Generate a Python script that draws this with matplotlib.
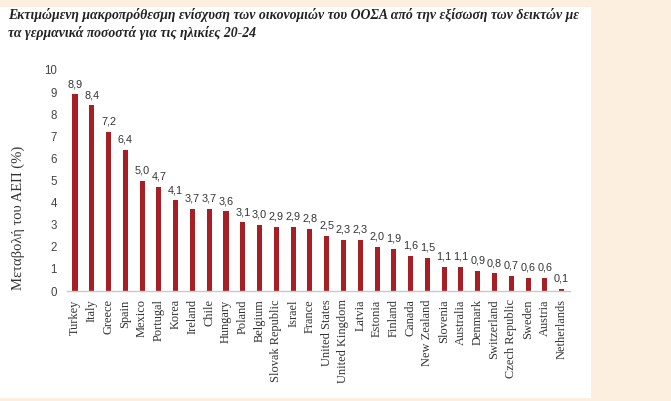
import matplotlib
matplotlib.use("Agg")
import matplotlib.pyplot as plt
from matplotlib.patches import Rectangle

countries = ["Turkey", "Italy", "Greece", "Spain", "Mexico", "Portugal", "Korea",
             "Ireland", "Chile", "Hungary", "Poland", "Belgium", "Slovak Republic",
             "Israel", "France", "United States", "United Kingdom", "Latvia", "Estonia",
             "Finland", "Canada", "New Zealand", "Slovenia", "Australia", "Denmark",
             "Switzerland", "Czech Republic", "Sweden", "Austria", "Netherlands"]
values = [8.9, 8.4, 7.2, 6.4, 5.0, 4.7, 4.1, 3.7, 3.7, 3.6, 3.1, 3.0, 2.9, 2.9, 2.8,
          2.5, 2.3, 2.3, 2.0, 1.9, 1.6, 1.5, 1.1, 1.1, 0.9, 0.8, 0.7, 0.6, 0.6, 0.1]
yticks = list(range(0, 11))
title = ("Εκτιμώμενη μακροπρόθεσμη ενίσχυση των οικονομιών του ΟΟΣΑ από την εξίσωση των δεικτών με\n"
         "τα γερμανικά ποσοστά για τις ηλικίες 20-24")
ylabel = "Μεταβολή του ΑΕΠ (%)"

W, H = 671, 401
fig = plt.figure(figsize=(W / 100, H / 100), dpi=100)
fig.patch.set_facecolor("#fdefdf")
fig.patches.append(Rectangle((0, 3.5 / H), 591 / W, (397.5 - 7) / H,
                             transform=fig.transFigure, facecolor="white",
                             edgecolor="none", zorder=-10))

ax = fig.add_axes([66.6 / W, 1 - 291 / H, (570 - 66.6) / W, (291 - 70) / H])
ax.set_zorder(5)
ax.set_facecolor("none")
x = list(range(len(countries)))
bar_color = "#a51f24"
ax.bar(x, values, width=0.3, color=bar_color, zorder=2)
for xi, v in zip(x, values):
    ax.text(xi, v + 0.24, f"{v:.1f}".replace(".", ","), ha="center", va="bottom",
            fontsize=7.8, color="#333333", family="Liberation Sans")

ax.set_xlim(-0.5, len(countries) - 0.5)
ax.set_ylim(0, 10)
ax.set_yticks(yticks)
ax.set_yticklabels([str(t) for t in yticks], family="Liberation Sans", fontsize=8.3,
                   color="#444444")
ax.set_xticks(x)
ax.set_xticklabels(countries, rotation=90, family="Liberation Serif", fontsize=8.9,
                   color="#333333")
ax.tick_params(axis="both", length=0)
ax.tick_params(axis="y", pad=7)
ax.tick_params(axis="x", pad=6)
for s in ["top", "right", "left"]:
    ax.spines[s].set_visible(False)
ax.spines["bottom"].set_color("#c8c8c8")
ax.spines["bottom"].set_linewidth(1.0)

fig.text(18 / W, 1 - 218 / H, ylabel, rotation=90, ha="center", va="center",
         family="Liberation Serif", fontsize=10.5, color="#333333", zorder=6)
fig.text(8 / W, 1 - 8 / H, title, ha="left", va="top", family="Liberation Serif",
         fontsize=9.9, fontweight="bold", fontstyle="italic", color="#222222",
         linespacing=1.4, zorder=6)

fig.savefig("out.png", dpi=100, facecolor=fig.get_facecolor())
